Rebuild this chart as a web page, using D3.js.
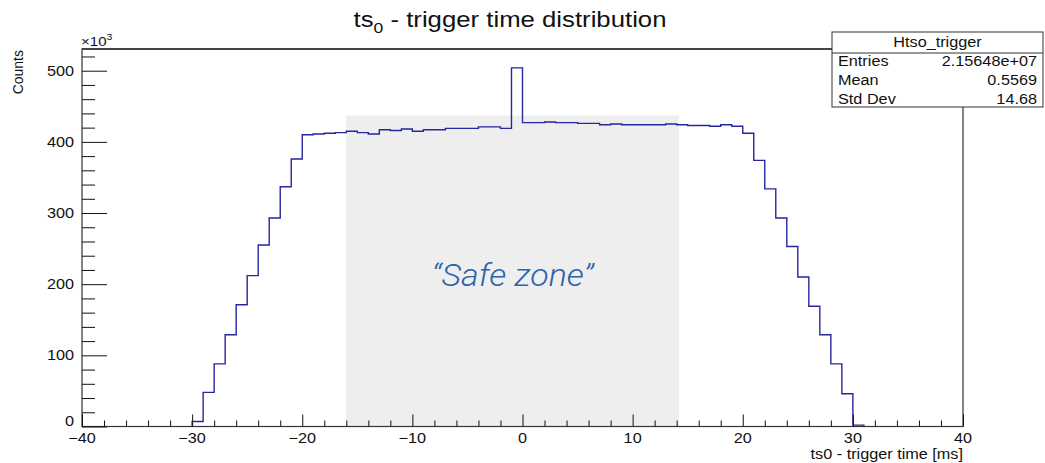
<!DOCTYPE html>
<html>
<head>
<meta charset="utf-8">
<script src="https://cdn.jsdelivr.net/npm/d3@7"></script>
<style>
  html, body { margin: 0; padding: 0; background: #fff; }
  svg { display: block; font-family: "Liberation Sans", Arial, Helvetica, sans-serif; }
</style>
</head>
<body>
<svg id="chart" width="1045" height="463"></svg>
<script>
// ---- data (counts in units of 10^3, 1 ms bins) ----
const binLowEdges = [-30,-29,-28,-27,-26,-25,-24,-23,-22,-21,-20,-19,-18,-17,-16,-15,-14,-13,-12,-11,
  -10,-9,-8,-7,-6,-5,-4,-3,-2,-1,0,1,2,3,4,5,6,7,8,9,10,11,12,13,14,15,16,17,18,19,20,
  21,22,23,24,25,26,27,28,29,30];
const counts = [7,48,88,129,171,212,255,293,337,376,410,411,412,413,415,413,411,417,416,418,
  415,417,417,419,419,419,421,421,419,504,427,427,428,427,427,426,426,424,425,424,424,
  424,424,425,424,423,423,422,424,422,412,374,334,293,253,210,169,129,88,46,2];
const binWidth = 1;
const xTicks = [-40,-30,-20,-10,0,10,20,30,40];
const yTicks = [0,100,200,300,400,500];
const safeZone = [-16, 14.2];
const safeZoneTop = 437;
const statsRows = [["Entries","2.15648e+07"],["Mean","0.5569"],["Std Dev","14.68"]];
const histName = "Htso_trigger";

// ---- layout ----
const L = 82, R = 963, T = 49, B = 426.5;
const SX = 1.16; // horizontal stretch of text seen in the reference
const svg = d3.select("#chart");
const x = d3.scaleLinear().domain([-40, 40]).range([L, R]);
const y = d3.scaleLinear().domain([0, 530.5]).range([B, T]);

function txt(px, py, str, size, anchor, sx) {
  return svg.append("text")
    .attr("transform", `translate(${px},${py}) scale(${sx || SX},1)`)
    .attr("text-anchor", anchor || "start")
    .style("font-size", size + "px")
    .attr("fill", "#111")
    .text(str);
}

// safe zone
svg.append("rect")
  .attr("x", x(safeZone[0])).attr("y", y(safeZoneTop))
  .attr("width", x(safeZone[1]) - x(safeZone[0]))
  .attr("height", y(0) - y(safeZoneTop))
  .attr("fill", "#eeeeee");

txt((x(safeZone[0]) + x(safeZone[1])) / 2, 286, "\u201CSafe zone\u201D", 32, "middle", 1.06)
  .style("font-family", "Roboto, 'Open Sans', sans-serif")
  .style("font-weight", 300)
  .style("font-style", "italic")
  .attr("fill", "#2a64aa");

// histogram step path
const pts = [[binLowEdges[0], 0]];
counts.forEach((c, i) => {
  pts.push([binLowEdges[i], c]);
  pts.push([binLowEdges[i] + binWidth, c]);
});
pts.push([binLowEdges[binLowEdges.length - 1] + binWidth, 0]);
svg.append("path")
  .attr("d", d3.line().x(d => x(d[0])).y(d => y(d[1]))(pts))
  .attr("fill", "none")
  .attr("stroke", "#2626a0")
  .attr("stroke-width", 1.4);

// frame
svg.append("rect")
  .attr("x", L).attr("y", T).attr("width", R - L).attr("height", B - T)
  .attr("fill", "none").attr("stroke", "#333").attr("stroke-width", 1.2);
svg.append("line").attr("x1", L).attr("x2", R).attr("y1", T).attr("y2", T)
  .attr("stroke", "#444").attr("stroke-width", 1.8);

// x axis ticks (inside, pointing up)
svg.append("g").attr("transform", `translate(0,${B})`)
  .call(d3.axisTop(x).tickValues(xTicks).tickSize(12).tickFormat(""))
  .select(".domain").remove();
const xMinor = d3.range(-40, 40.001, 2).filter(v => !xTicks.includes(v));
svg.append("g").attr("transform", `translate(0,${B})`)
  .call(d3.axisTop(x).tickValues(xMinor).tickSize(6).tickFormat(""))
  .select(".domain").remove();
xTicks.forEach(d => txt(x(d), B + 16, d < 0 ? "\u2212" + Math.abs(d) : String(d), 14, "middle"));

// y axis ticks (inside, pointing right)
svg.append("g").attr("transform", `translate(${L},0)`)
  .call(d3.axisRight(y).tickValues(yTicks).tickSize(25).tickFormat(""))
  .select(".domain").remove();
const yMinor = d3.range(0, 530, 20).filter(v => !yTicks.includes(v));
svg.append("g").attr("transform", `translate(${L},0)`)
  .call(d3.axisRight(y).tickValues(yMinor).tickSize(13).tickFormat(""))
  .select(".domain").remove();
svg.selectAll(".tick line").attr("stroke", "#111");
yTicks.forEach(d => txt(L - 8, d === 0 ? B - 1 : y(d) + 5, String(d), 14, "end"));

// x10^3
const mult = txt(L - 1, 46, "", 13, "start");
mult.append("tspan").text("\u00D710");
mult.append("tspan").attr("dy", -6).style("font-size", "9px").text("3");

// axis titles
svg.append("text")
  .attr("transform", "translate(23,50) rotate(-90)")
  .attr("text-anchor", "end")
  .style("font-size", "14px").attr("fill", "#111")
  .text("Counts");
txt(R, 459, "ts0 - trigger time [ms]", 14, "end");

// title
const title = txt(510, 27, "", 22, "middle", 1.17);
title.append("tspan").text("ts");
title.append("tspan").attr("dy", 6).style("font-size", "15px").text("0");
title.append("tspan").attr("dy", -6).text(" - trigger time distribution");

// stats box
const sx0 = 832, sx1 = 1043, sy0 = 32, sy1 = 107, sep = 53;
svg.append("rect").attr("x", sx0).attr("y", sy0).attr("width", sx1 - sx0).attr("height", sy1 - sy0)
  .attr("fill", "#fff").attr("stroke", "#333").attr("stroke-width", 1);
svg.append("line").attr("x1", sx0).attr("x2", sx1).attr("y1", sep).attr("y2", sep)
  .attr("stroke", "#333");
txt((sx0 + sx1) / 2, 47, histName, 14, "middle");
const rowY = [66, 85, 104];
statsRows.forEach((r, i) => {
  txt(sx0 + 6, rowY[i], r[0], 14, "start");
  txt(sx1 - 6, rowY[i], r[1], 14, "end");
});
</script>
</body>
</html>
